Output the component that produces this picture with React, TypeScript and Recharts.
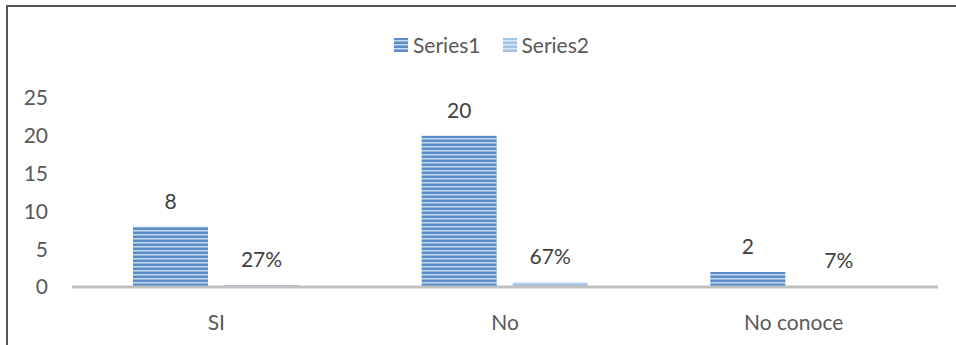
import { BarChart, Bar, XAxis, YAxis, Legend, LabelList } from "recharts";

const categories = ["SI", "No", "No conoce"];
const series1 = [8, 20, 2];
const series2 = [0.27, 0.67, 0.07];
const yTicks = [0, 5, 10, 15, 20, 25];

const data = categories.map((name, i) => ({ name, s1: series1[i], s2: series2[i] }));

const FONT = "Lato, 'Liberation Sans', sans-serif";
const TXT = "#595959";

const stripe1 = "repeating-linear-gradient(to bottom, #5a8cc8 0px, #5a8cc8 2px, #c9daef 2px, #c9daef 3px, #8fb3de 3px, #8fb3de 4px)";
const stripe2 = "repeating-linear-gradient(to bottom, #a3c2e7 0px, #a3c2e7 2px, #dce8f5 2px, #dce8f5 3px, #bcd2ee 3px, #bcd2ee 4px)";

function LegendBox() {
  const item = (label: string, bg: string) => (
    <span style={{ display: "flex", alignItems: "center", gap: 5 }}>
      <span style={{ width: 14, height: 14, background: bg, display: "inline-block" }} />
      <span>{label}</span>
    </span>
  );
  return (
    <div style={{
      display: "flex", justifyContent: "center", gap: 22, paddingLeft: 27,
      fontFamily: FONT, fontSize: 21, color: TXT, lineHeight: "24px",
    }}>
      {item("Series1", stripe1)}
      {item("Series2", stripe2)}
    </div>
  );
}

export default function App() {
  return (
    <div style={{ position: "absolute", left: 0, top: 0, width: 956, height: 345, background: "#fff" }}>
      <div style={{
        position: "absolute", left: 6, top: 5, right: 0, bottom: 0,
        borderTop: "2px solid #555", borderLeft: "2px solid #555",
      }} />
      <BarChart
        width={956} height={345} data={data}
        margin={{ top: 98, right: 18, bottom: 0, left: 0 }}
        barCategoryGap={61} barGap={16}
      >
        <defs>
          <pattern id="st1" width="8" height="4" patternUnits="userSpaceOnUse">
            <rect x="0" y="0" width="8" height="2" fill="#5a8cc8" />
            <rect x="0" y="2" width="8" height="1" fill="#c9daef" />
            <rect x="0" y="3" width="8" height="1" fill="#8fb3de" />
          </pattern>
          <pattern id="st2" width="8" height="4" patternUnits="userSpaceOnUse">
            <rect x="0" y="0" width="8" height="2" fill="#a3c2e7" />
            <rect x="0" y="2" width="8" height="1" fill="#dce8f5" />
            <rect x="0" y="3" width="8" height="1" fill="#bcd2ee" />
          </pattern>
        </defs>
        <XAxis
          dataKey="name" height={58}
          axisLine={{ stroke: "#c0c0c0", strokeWidth: 3 }}
          tickLine={false} tickSize={0} tickMargin={28}
          tick={{ fill: TXT, fontSize: 21, fontFamily: FONT }}
        />
        <YAxis
          width={72} domain={[0, 25]} ticks={yTicks}
          axisLine={false} tickLine={false} tickSize={0} tickMargin={24}
          tick={{ fill: TXT, fontSize: 21, fontFamily: FONT }}
        />
        <Legend
          layout="horizontal" verticalAlign="middle" align="center"
          wrapperStyle={{ top: 33, left: 0, width: 956 }}
          content={<LegendBox />}
        />
        <Bar dataKey="s1" name="Series1" fill="url(#st1)" isAnimationActive={false}>
          <LabelList
            dataKey="s1" position="top" offset={18}
            style={{ fill: "#404040", fontSize: 21, fontFamily: FONT }}
          />
        </Bar>
        <Bar dataKey="s2" name="Series2" fill="url(#st2)" isAnimationActive={false}>
          <LabelList
            dataKey="s2" position="top" offset={18}
            formatter={(v: number) => `${Math.round(v * 100)}%`}
            style={{ fill: "#404040", fontSize: 21, fontFamily: FONT }}
          />
        </Bar>
      </BarChart>
    </div>
  );
}
